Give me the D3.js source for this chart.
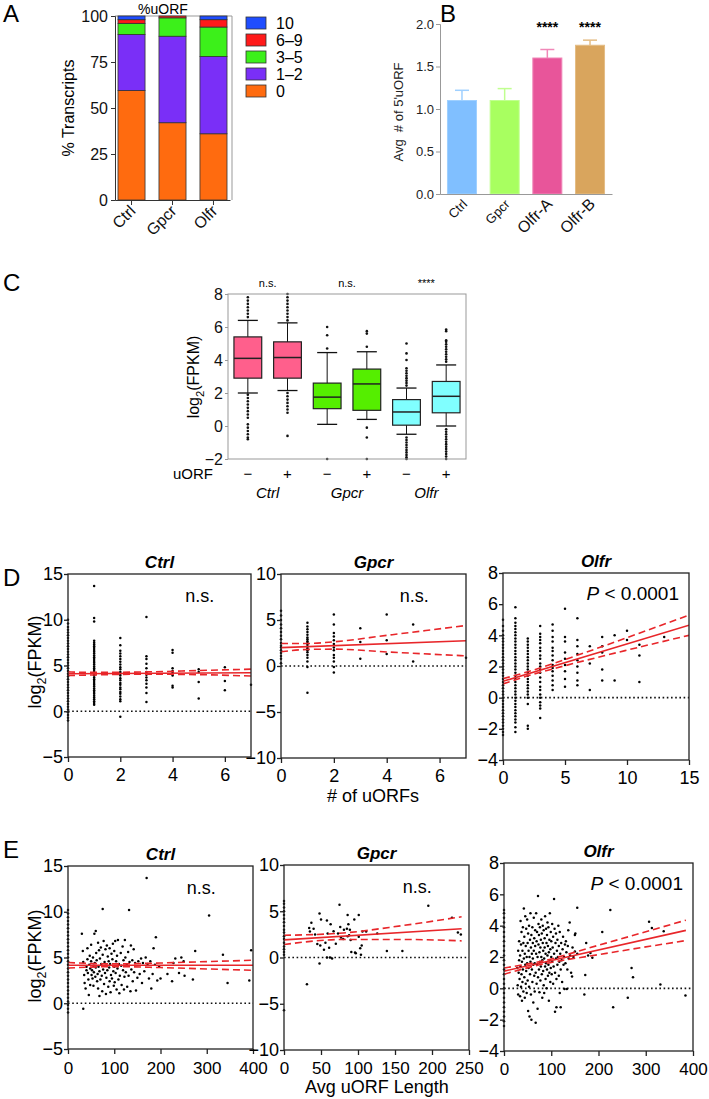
<!DOCTYPE html>
<html><head><meta charset="utf-8">
<script src="https://cdn.jsdelivr.net/npm/d3@7"></script>
<style>body{margin:0;background:#fff}</style>
</head><body>
<script>
// ================= DATA =================
// Panel A
const aCats = ["Ctrl","Gpcr","Olfr"];
const aKeys = ["0","1–2","3–5","6–9","10"];
const aZero = [59.5, 42, 36];
const aOneTwo = [30.5, 47, 42];
const aThreeFive = [6, 10, 16];
const aSixNine = [2, 1, 4];
const aTen = [2, 0, 2];
const aTicks = [0,25,50,75,100];

// Panel B
const bCats = ["Ctrl","Gpcr","Olfr-A","Olfr-B"];
const bMeans = [1.1, 1.1, 1.6, 1.75];
const bErr = [0.12, 0.14, 0.1, 0.06];
const bSig = ["","","****","****"];
const bTicks = [0,0.5,1,1.5,2];

// Panel C
const cCats = ["Ctrl-","Ctrl+","Gpcr-","Gpcr+","Olfr-","Olfr+"];
const cQ1 = [2.9,2.9,1.05,0.95,0.05,0.8];
const cMed = [4.1,4.15,1.75,2.55,0.85,1.8];
const cQ3 = [5.4,5.1,2.6,3.45,1.6,2.7];
const cLo = [2.0,2.15,0.1,0.4,-0.5,0.0];
const cHi = [6.4,6.25,4.45,4.5,2.3,3.7];
const cOut = [
  [6.6,6.8,7.0,7.2,7.4,7.6,7.8,1.9,1.7,1.5,1.3,1.1,0.9,0.7,0.5,0.1,-0.1,-0.3,-0.5,-0.7,-0.8],
  [6.4,6.6,6.8,7.0,7.2,7.4,7.6,7.8,8.0,2.0,1.8,1.6,1.4,1.2,1.0,0.8,-0.6],
  [4.7,5.5,6.0,-2.0],
  [4.8,5.6,5.75,-0.1,-0.7,-2.0],
  [2.45,2.6,2.75,2.9,3.05,3.2,3.35,3.5,4.0,4.4,5.0,-0.7,-0.85,-1.0,-1.15,-1.3,-1.45,-1.6,-1.75,-1.9,-2.0],
  [3.9,4.05,4.2,4.35,4.5,4.65,4.8,4.95,5.1,5.2,5.75,5.85,-0.2,-0.35,-0.5,-0.65,-0.8,-0.95,-1.1,-1.25,-1.4,-1.55,-1.7,-1.85,-2.0]
];
const cSigns = ["−","+","−","+","−","+"];
const cGroups = ["Ctrl","Gpcr","Olfr"];
const cSig = ["n.s.","n.s.","****"];
const cTicks = [-2,0,2,4,6,8];

// Panel D (# of uORFs) columns: [x, [y...]]
const dCtrlCols = [
 [0, [-1.0,-0.7,-0.4,-0.1,0.2,0.5,0.8,1.1,1.4,1.7,2.0,2.3,2.6,2.9,3.2,3.5,3.8,4.1,4.4,4.7,5.0,5.3,5.6,5.9,6.2,6.5,6.8,7.1,7.4,7.7,8.0,8.3,8.6,8.9,9.2,9.6,10.0]],
 [1, [0.7,0.9,1.1,1.3,1.5,1.7,1.9,2.1,2.3,2.5,2.7,2.9,3.1,3.3,3.5,3.7,3.9,4.1,4.3,4.5,4.7,4.9,5.1,5.3,5.5,5.7,5.9,6.1,6.3,6.5,6.7,6.9,7.1,7.3,7.5,7.7,9.8,10.2,13.7]],
 [2, [-0.6,1.1,1.3,1.6,1.9,2.1,2.4,2.6,2.9,3.1,3.4,3.6,3.9,4.1,4.3,4.6,4.8,5.1,5.4,5.7,6.0,6.3,6.6,7.2,8.0]],
 [3, [1.0,2.0,2.6,3.0,3.4,3.7,4.0,4.3,4.7,5.2,5.7,6.0,10.3]],
 [4, [2.6,2.8,3.9,4.2,4.4,4.7,6.4,6.7]],
 [5, [1.4,3.2,4.3,4.6]],
 [6, [2.3,3.3,4.8]],
 [7, [2.9]]
];
const dGpcrCols = [
 [0, [0.3,0.8,1.1,1.4,1.7,2.0,2.2,2.5,2.9,3.3,3.7,4.1,4.5,5.0,5.5,6.0]],
 [1, [-2.9,-0.1,0.5,0.9,1.2,1.5,1.7,1.9,2.1,2.3,2.5,2.7,2.9,3.1,3.4,3.7,4.0,4.3,4.7]],
 [2, [-0.7,-0.1,0.5,0.9,1.2,1.7,2.0,2.4,2.8,3.2,3.6,4.5,5.6]],
 [3, [0.8,2.6,4.1]],
 [4, [1.3,2.8,5.6]],
 [5, [0.5,4.5]],
 [7, [0.9]]
];
const dOlfrCols = [
 [0, [-2.4,-2.2,-2.0,-1.8,-1.6,-1.4,-1.2,-1.0,-0.8,-0.6,-0.4,-0.2,0,0.2,0.4,0.6,0.8,1.0,1.2,1.4,1.6,1.8,2.0,2.2,2.4,2.6,2.8,3.0,3.2,3.4,3.6,3.8,4.0,4.3,4.6,5.0]],
 [1, [-2.2,-1.9,-1.6,-1.4,-1.2,-1.0,-0.8,-0.6,-0.4,-0.2,0,0.2,0.4,0.6,0.8,1.0,1.2,1.4,1.6,1.8,2.0,2.2,2.4,2.6,2.8,3.0,3.2,3.4,3.6,3.8,4.0,4.2,4.4,4.6,4.8,5.1,5.8]],
 [2, [-2.0,-1.8,-0.4,0,0.2,0.4,0.6,0.8,1.0,1.2,1.4,1.6,1.8,2.0,2.2,2.4,2.6,2.8,3.0,3.2,3.4,3.6,3.8]],
 [3, [-1.3,-0.7,-0.5,-0.3,0,0.2,0.5,0.7,1.0,1.3,1.6,1.8,2.0,2.2,2.5,2.7,3.0,3.2,3.5,3.7,3.9,4.1,4.6]],
 [4, [0.5,0.8,1.1,1.4,1.7,1.9,2.1,2.4,2.7,3.0,3.2,3.6,3.9,4.3,4.7]],
 [5, [0.7,1.2,1.7,2.1,2.5,2.9,3.6,3.9,5.7]],
 [6, [0.8,1.1,1.6,2.0,2.4,2.8,3.3,3.7,5.1]],
 [7, [0.5,2.2,3.3]],
 [8, [1.1,1.8,2.9,3.3,3.9]],
 [9, [1.1,4.0]],
 [10, [3.7,4.3]],
 [11, [1.0,2.7,3.4]],
 [13, [3.9]]
];
// regression fits & 95% CI (x, y)
const dCtrlFit = [[0,4.1],[7,4.2]];
const dCtrlUp = [[0,4.3],[1,4.25],[3,4.3],[5,4.45],[7,4.6]];
const dCtrlLo = [[0,3.9],[1,3.97],[3,4.05],[5,4.0],[7,3.85]];
const dGpcrFit = [[0,2.0],[7,2.75]];
const dGpcrUp = [[0,2.45],[1,2.45],[2,2.63],[4,3.33],[7,4.4]];
const dGpcrLo = [[0,1.55],[1,1.8],[2,1.83],[4,1.53],[7,1.1]];
const dOlfrFit = [[0,1.05],[15,4.65]];
const dOlfrUp = [[0,1.22],[2,1.66],[5,2.45],[10,3.85],[15,5.3]];
const dOlfrLo = [[0,0.88],[2,1.4],[5,2.05],[10,3.05],[15,4.0]];

// Panel E (Avg uORF length) points [x, y]
const eCtrlZero = [-1.0,-0.6,-0.2,0.2,0.6,1,1.4,1.8,2.2,2.6,3,3.4,3.8,4.2,4.6,5,5.4,5.8,6.2,6.6,7,7.4,7.8,8.2,8.6,9,9.4,9.8,10.2];
const eCtrlPts = [[30,7.6],[32,5.7],[33,4.5],[35,3.1],[36,2.2],[38,1.6],[40,4.0],[40,3.6],[42,6.0],[42,4.8],[43,3.3],[44,2.6],[45,0.9],[46,4.2],[47,5.2],[48,3.8],[48,2.0],[50,6.4],[50,4.6],[51,3.1],[52,3.6],[53,2.7],[54,5.0],[55,4.1],[55,1.9],[56,3.4],[57,7.6],[58,4.4],[59,2.9],[60,7.9],[60,3.9],[61,5.5],[62,4.7],[63,2.4],[64,3.2],[65,1.6],[65,6.6],[66,4.0],[67,5.8],[68,0.8],[68,3.5],[69,4.9],[70,2.6],[71,6.1],[72,4.3],[73,3.0],[74,1.3],[75,5.3],[75,10.3],[76,3.7],[77,6.8],[78,2.1],[79,4.5],[80,3.3],[81,5.9],[82,1.0],[82,4.1],[83,2.8],[84,6.3],[85,3.6],[86,5.1],[87,1.8],[88,4.6],[89,3.9],[90,2.4],[90,6.0],[91,4.3],[92,1.2],[93,3.1],[94,5.4],[95,2.7],[96,4.8],[97,6.5],[98,3.5],[99,1.9],[100,5.7],[100,4.0],[101,2.3],[102,6.8],[103,3.3],[104,4.6],[105,1.5],[106,5.2],[107,3.8],[108,6.9],[109,2.6],[110,4.3],[111,1.1],[112,3.0],[114,5.5],[115,4.1],[116,2.0],[118,6.2],[119,3.6],[120,4.7],[121,1.5],[122,2.9],[123,6.9],[124,5.0],[125,3.4],[127,4.2],[128,1.8],[130,5.6],[131,3.0],[132,10.2],[133,4.5],[135,1.3],[136,6.3],[137,3.7],[139,4.7],[140,2.4],[142,5.9],[143,3.4],[145,4.4],[147,1.4],[150,2.8],[152,4.6],[155,3.2],[158,4.9],[160,2.2],[162,4.4],[165,3.5],[168,5.0],[170,13.7],[172,4.3],[175,2.7],[178,4.6],[180,1.6],[183,3.2],[185,6.0],[188,4.2],[190,7.2],[193,2.5],[197,4.0],[200,2.7],[215,3.2],[225,2.4],[228,4.4],[232,4.9],[240,3.3],[245,5.0],[250,4.6],[252,3.0],[270,2.6],[275,5.7],[305,9.6],[335,5.3],[345,2.2],[392,2.5],[396,5.8],[33,-0.6]];
const eGpcrZero = [-5.7,0.3,0.6,0.9,1.2,1.6,2.0,2.3,2.7,3.0,3.4,3.8,4.2,4.6,5.0,5.4,5.8,6.1];
const eGpcrPts = [[31,-2.9],[35,2.8],[37,3.75],[34,3.2],[40,3.1],[42,2.5],[45,1.45],[48,4.75],[50,4.1],[49,1.3],[48,-0.65],[54,0.85],[56,1.6],[58,4.0],[59,2.6],[61,1.05],[63,3.6],[58,0],[62,0],[65,-0.1],[67,2.85],[70,1.5],[73,2.6],[75,5.7],[76,3.3],[77,2.15],[80,2.0],[81,3.0],[85,3.1],[86,4.6],[87,3.6],[88,2.4],[89,3.0],[90,1.9],[91,0.6],[95,4.1],[96,0.55],[97,0.45],[101,4.6],[103,1.0],[104,0.3],[105,1.3],[106,2.8],[111,2.8],[126,2.6],[139,0.7],[160,0.7],[195,5.6],[227,4.3],[235,2.7],[239,2.5],[86,2.3],[101,2.25]];
const eOlfrZero = [-2.4,-2.1,-1.8,-1.5,-1.2,-0.9,-0.6,-0.3,0,0.3,0.6,0.9,1.2,1.5,1.8,2.1,2.4,2.7,3,3.3,3.6,3.9,4.2,4.5,4.8,5.0];
const eOlfrPts = [[28,1.3],[29,0.2],[30,2.4],[30,-0.4],[31,1.0],[32,3.0],[32,1.8],[33,0.6],[34,2.1],[34,-0.5],[35,4.3],[35,1.4],[36,0.1],[36,2.8],[37,3.6],[37,0.9],[38,1.7],[38,-0.8],[39,2.4],[39,0.4],[40,3.9],[40,1.2],[41,2.9],[41,-0.2],[42,5.1],[42,1.9],[43,0.7],[43,3.3],[44,2.2],[44,-0.6],[45,1.5],[45,4.6],[46,2.7],[46,0.3],[47,3.8],[47,1.1],[48,2.0],[48,-0.3],[49,4.4],[49,1.6],[50,2.9],[50,0.5],
[51,3.5],[51,-1.45],[52,1.3],[52,2.4],[53,4.0],[53,0.1],[54,-1.8],[54,2.0],[55,3.1],[55,0.9],[56,1.7],[56,4.8],[57,2.6],[57,-0.4],[58,-2.0],[58,3.4],[59,1.2],[59,2.2],[60,0.4],[60,3.9],[61,1.9],[61,2.9],[62,-0.9],[62,1.5],[63,4.5],[63,2.4],[64,0.8],[64,3.2],[65,1.6],[65,-0.2],[66,2.7],[66,3.7],[67,-2.2],[67,1.0],[68,4.8],[68,2.2],[69,0.3],[69,3.0],[70,1.5],[70,3.6],[71,-1.3],[71,2.0],[72,5.9],[72,0.7],
[73,2.8],[73,4.1],[74,1.2],[74,3.4],[75,-0.25],[75,2.3],[76,1.7],[76,3.9],[77,0.5],[77,2.6],[78,3.1],[78,1.4],[79,4.4],[79,2.0],[80,0.9],[80,3.5],[81,1.8],[81,-0.6],[82,2.9],[82,4.0],[83,1.1],[83,2.4],[84,3.7],[84,0.2],[85,-0.3],[85,1.9],[86,3.2],[86,2.6],[87,4.6],[87,1.4],[88,0.6],[88,2.2],[89,3.8],[89,1.6],[90,2.9],[90,0.0],[91,1.2],[91,3.4],[92,2.1],[92,4.2],[93,0.8],[93,2.7],[94,1.5],[94,3.9],[95,-0.8],[95,2.3],[96,3.1],[96,1.0],[97,4.8],[97,1.8],[98,2.5],[98,0.4],[99,3.6],[99,1.3],[100,2.0],[100,3.0],
[101,0.9],[102,4.1],[102,1.7],[103,2.6],[104,0.3],[104,3.3],[105,1.4],[106,5.7],[106,2.2],[107,3.8],[108,-1.5],[108,1.0],[109,2.9],[110,1.9],[110,3.5],[111,-1.2],[111,0.6],[112,2.4],[113,1.5],[113,3.1],[114,2.0],[115,4.0],[116,0.8],[116,2.7],[117,1.7],[118,-0.3],[118,3.6],[119,2.2],[120,-1.2],[120,1.2],[121,2.9],[122,1.8],[123,0.4],[124,2.5],[125,3.3],[126,1.5],[127,2.0],[128,-0.05],[129,2.8],[130,1.6],[131,3.0],[132,2.3],[133,-0.05],[134,1.2],[135,2.7],[136,3.7],[137,1.9],[139,4.2],[140,2.1],[142,1.0],[144,0.75],[145,2.6],[147,2.0],[150,2.35],[150,3.4],[151,3.5],[155,5.15],[155,2.2],
[170,-0.4],[172,0.85],[174,2.9],[178,2.1],[183,2.25],[187,1.95],[208,3.6],[225,5.0],[231,-1.2],[262,-0.6],[270,1.3],[273,0.7],[307,4.25],[313,3.85],[331,0.25],[338,3.65],[384,-0.45]];
const eCtrlFit = [[0,4.15],[400,4.15]];
const eCtrlUp = [[0,4.45],[100,4.3],[200,4.4],[300,4.55],[400,4.7]];
const eCtrlLo = [[0,3.85],[100,4.0],[200,3.9],[300,3.75],[400,3.6]];
const eGpcrFit = [[0,1.9],[240,3.1]];
const eGpcrUp = [[0,2.4],[80,2.65],[160,3.45],[240,4.4]];
const eGpcrLo = [[0,1.4],[80,1.95],[160,1.95],[240,1.8]];
const eOlfrFit = [[0,1.1],[385,3.7]];
const eOlfrUp = [[0,1.3],[75,1.7],[200,2.75],[385,4.35]];
const eOlfrLo = [[0,0.9],[75,1.5],[200,2.15],[385,3.05]];

// ================= DRAW =================
const W = 709, H = 1099;
const FONT = '"Liberation Sans", Arial, Helvetica, sans-serif';
const svg = d3.select("body").append("svg").attr("width", W).attr("height", H)
  .style("font-family", FONT);
svg.append("rect").attr("width", W).attr("height", H).attr("fill", "#fff");

function letter(t, x, y) {
  svg.append("text").attr("x", x).attr("y", y).attr("font-size", 24).text(t);
}
function log2Label(g, x, y, size) {
  const t = g.append("text").attr("transform", `translate(${x},${y}) rotate(-90)`)
    .attr("text-anchor", "middle").attr("font-size", size);
  t.append("tspan").text("log");
  t.append("tspan").attr("font-size", size * 0.7).attr("dy", size * 0.3).text("2");
  t.append("tspan").attr("dy", -size * 0.3).text("(FPKM)");
}

// ---------- Panel A ----------
letter("A", 3, 22);
{
  const g = svg.append("g");
  const x = d3.scaleBand().domain(aCats).range([115, 230]).paddingInner(0.34).paddingOuter(0.073);
  const y = d3.scaleLinear().domain([0, 100]).range([200, 16]);
  const colors = {"0":"#ff6b0f","1–2":"#7a2ff7","3–5":"#3cf01a","6–9":"#ff1a1a","10":"#1f4dff"};
  const rows = aCats.map((c, i) => ({cat: c, "0": aZero[i], "1–2": aOneTwo[i], "3–5": aThreeFive[i], "6–9": aSixNine[i], "10": aTen[i]}));
  const stack = d3.stack().keys(aKeys)(rows);
  g.append("path").attr("d", `M115,16H232V200`).attr("fill", "none").attr("stroke", "#999").attr("stroke-width", 1);
  stack.forEach(s => {
    g.selectAll(null).data(s).join("rect")
      .attr("x", d => x(d.data.cat)).attr("width", x.bandwidth())
      .attr("y", d => y(d[1])).attr("height", d => Math.max(0, y(d[0]) - y(d[1])))
      .attr("fill", colors[s.key]).attr("stroke", "#333").attr("stroke-width", 0.8);
  });
  const ya = g.append("g").attr("transform", "translate(115,0)")
    .call(d3.axisLeft(y).tickValues(aTicks).tickSize(4).tickPadding(3));
  ya.selectAll("text").attr("font-size", 16).attr("font-family", FONT).attr("fill", "#111");
  ya.selectAll("line,path").attr("stroke", "#333");
  const xa = g.append("g").attr("transform", "translate(0,200)")
    .call(d3.axisBottom(x).tickSize(5).tickSizeOuter(0));
  xa.selectAll("line,path").attr("stroke", "#333");
  xa.selectAll("text").attr("font-size", 16).attr("font-family", FONT).attr("fill", "#111")
    .attr("text-anchor", "end").attr("dy", null).attr("y", 0)
    .attr("transform", "translate(5,12) rotate(-45)");
  g.append("text").attr("x", 163).attr("y", 14).attr("text-anchor", "middle").attr("font-size", 14).text("%uORF");
  g.append("text").attr("transform", "translate(74,108) rotate(-90)").attr("text-anchor", "middle")
    .attr("font-size", 16).text("% Transcripts");
  const legendKeys = aKeys.slice().reverse();
  legendKeys.forEach((k, i) => {
    const yy = 17 + i * 17;
    g.append("rect").attr("x", 246).attr("y", yy).attr("width", 20).attr("height", 12)
      .attr("fill", colors[k]).attr("stroke", "#333").attr("stroke-width", 0.8);
    g.append("text").attr("x", 276).attr("y", yy + 12).attr("font-size", 16).text(k);
  });
}

// ---------- Panel B ----------
letter("B", 440, 22);
{
  const g = svg.append("g");
  const x = d3.scaleBand().domain(bCats).range([440, 612]).paddingInner(0.32).paddingOuter(0.175);
  const y = d3.scaleLinear().domain([0, 2]).range([194, 24]);
  const fills = ["#80bfff", "#a8ff60", "#e8559a", "#d9a55d"];
  const strokes = ["#9fd0ff", "#c0ff90", "#f088b8", "#e4bd85"];
  bCats.forEach((c, i) => {
    const cx = x(c) + x.bandwidth() / 2;
    g.append("line").attr("x1", cx).attr("x2", cx).attr("y1", y(bMeans[i])).attr("y2", y(bMeans[i] + bErr[i]))
      .attr("stroke", strokes[i]).attr("stroke-width", 1.5);
    g.append("line").attr("x1", cx - 7).attr("x2", cx + 7).attr("y1", y(bMeans[i] + bErr[i])).attr("y2", y(bMeans[i] + bErr[i]))
      .attr("stroke", strokes[i]).attr("stroke-width", 1.5);
    g.append("rect").attr("x", x(c)).attr("width", x.bandwidth()).attr("y", y(bMeans[i]))
      .attr("height", y(0) - y(bMeans[i])).attr("fill", fills[i]).attr("stroke", strokes[i]).attr("stroke-width", 1);
    if (bSig[i]) g.append("text").attr("x", cx).attr("y", 32).attr("text-anchor", "middle")
      .attr("font-size", 14).attr("font-weight", "bold").text(bSig[i]);
  });
  const ya = g.append("g").attr("transform", "translate(440,0)")
    .call(d3.axisLeft(y).tickValues(bTicks).tickFormat(d3.format(".1f")).tickSize(4).tickPadding(2));
  ya.selectAll("line,path").attr("stroke", "#999");
  ya.selectAll("text").attr("font-size", 13).attr("font-family", FONT).attr("fill", "#222");
  const xa = g.append("g").attr("transform", "translate(0,194)")
    .call(d3.axisBottom(x).tickSize(0).tickSizeOuter(0));
  xa.selectAll("path").attr("stroke", "#999");
  xa.selectAll("text").attr("font-family", FONT).attr("fill", "#111")
    .attr("font-size", (d, i) => i < 2 ? 13 : 16)
    .attr("text-anchor", "end").attr("dy", null).attr("y", 0)
    .attr("transform", "translate(6,11) rotate(-45)");
  g.append("text").attr("transform", "translate(403,112) rotate(-90)").attr("text-anchor", "middle")
    .attr("font-size", 13).attr("fill", "#222").attr("xml:space", "preserve").text("Avg  # of 5'uORF");
}

// ---------- Panel C ----------
letter("C", 3, 291);
{
  const g = svg.append("g");
  const L = 228, R = 466, T = 294, B = 459;
  const x = d3.scaleBand().domain(cCats).range([L, R]).paddingInner(0.3).paddingOuter(0.15);
  const y = d3.scaleLinear().domain([-2, 8]).range([B, T]);
  const fills = ["#ff5f8c", "#ff5f8c", "#55ee00", "#55ee00", "#80ffff", "#80ffff"];
  const bw = x.bandwidth();
  cCats.forEach((c, i) => {
    const cx = x(c) + bw / 2;
    g.append("line").attr("x1", cx).attr("x2", cx).attr("y1", y(cLo[i])).attr("y2", y(cHi[i])).attr("stroke", "#111").attr("stroke-width", 1);
    [cLo[i], cHi[i]].forEach(v => g.append("line").attr("x1", cx - 10).attr("x2", cx + 10).attr("y1", y(v)).attr("y2", y(v)).attr("stroke", "#111").attr("stroke-width", 1.3));
    g.append("rect").attr("x", x(c)).attr("width", bw).attr("y", y(cQ3[i])).attr("height", y(cQ1[i]) - y(cQ3[i]))
      .attr("fill", fills[i]).attr("stroke", "#222").attr("stroke-width", 1.2);
    g.append("line").attr("x1", x(c)).attr("x2", x(c) + bw).attr("y1", y(cMed[i])).attr("y2", y(cMed[i])).attr("stroke", "#222").attr("stroke-width", 1.5);
    g.selectAll(null).data(cOut[i]).join("circle").attr("cx", cx).attr("cy", d => y(d)).attr("r", 1.3).attr("fill", "#111");
    g.append("text").attr("x", cx).attr("y", 479).attr("text-anchor", "middle").attr("font-size", 15).text(cSigns[i]);
  });
  g.append("rect").attr("x", L).attr("y", T).attr("width", R - L).attr("height", B - T).attr("fill", "none").attr("stroke", "#999").attr("stroke-width", 1);
  const ya = g.append("g").attr("transform", `translate(${L},0)`).call(d3.axisLeft(y).tickValues(cTicks).tickSize(3).tickPadding(2));
  ya.select("path").remove();
  ya.selectAll("line").attr("stroke", "#999");
  ya.selectAll("text").attr("font-size", 16).attr("font-family", FONT).attr("fill", "#111");
  log2Label(g, 199, 377, 16);
  cGroups.forEach((gr, k) => {
    const cx = (x(cCats[2 * k]) + x(cCats[2 * k + 1]) + bw) / 2;
    g.append("text").attr("x", cx).attr("y", 287).attr("text-anchor", "middle").attr("font-size", 11).text(cSig[k]);
    g.append("text").attr("x", cx).attr("y", 498).attr("text-anchor", "middle").attr("font-size", 15).attr("font-style", "italic").text(gr);
  });
  g.append("text").attr("x", 213).attr("y", 479).attr("text-anchor", "end").attr("font-size", 15).text("uORF");
}

// ---------- Scatter panels (D, E) ----------
let clipN = 0;
function scatter(o) {
  const g = svg.append("g");
  const x = d3.scaleLinear().domain(o.xd).range([o.l, o.r]);
  const y = d3.scaleLinear().domain(o.yd).range([o.b, o.t]);
  const id = "clip" + (clipN++);
  g.append("clipPath").attr("id", id).append("rect").attr("x", o.l).attr("y", o.t).attr("width", o.r - o.l).attr("height", o.b - o.t);
  g.append("line").attr("x1", o.l).attr("x2", o.r).attr("y1", y(0)).attr("y2", y(0))
    .attr("stroke", "#111").attr("stroke-width", 1.6).attr("stroke-dasharray", "1.6,2.6");
  g.selectAll(null).data(o.pts).join("circle").attr("cx", d => x(d[0])).attr("cy", d => y(d[1])).attr("r", 1.25).attr("fill", "#000");
  const lg = g.append("g").attr("clip-path", `url(#${id})`);
  const line = d3.line().x(d => x(d[0])).y(d => y(d[1])).curve(d3.curveMonotoneX);
  lg.append("path").attr("d", line(o.fit)).attr("fill", "none").attr("stroke", "#e8262a").attr("stroke-width", 1.6);
  [o.up, o.lo].forEach(c => lg.append("path").attr("d", line(c)).attr("fill", "none")
    .attr("stroke", "#e8262a").attr("stroke-width", 1.6).attr("stroke-dasharray", "7,4"));
  g.append("rect").attr("x", o.l).attr("y", o.t).attr("width", o.r - o.l).attr("height", o.b - o.t)
    .attr("fill", "none").attr("stroke", "#222").attr("stroke-width", 1.3);
  const ya = g.append("g").attr("transform", `translate(${o.l},0)`).call(d3.axisLeft(y).tickValues(o.yt).tickFormat(d3.format("d")).tickSize(4).tickPadding(1));
  ya.select("path").remove();
  ya.selectAll("line").attr("stroke", "#222").attr("stroke-width", 1.3);
  ya.selectAll("text").attr("font-size", 18).attr("font-family", FONT).attr("fill", "#000");
  const xa = g.append("g").attr("transform", `translate(0,${o.b})`).call(d3.axisBottom(x).tickValues(o.xt).tickFormat(d3.format("d")).tickSize(5).tickPadding(o.xpad || 6));
  xa.select("path").remove();
  xa.selectAll("line").attr("stroke", "#222").attr("stroke-width", 1.3);
  xa.selectAll("text").attr("font-size", o.xfs || 18).attr("font-family", FONT).attr("fill", "#000");
  g.append("text").attr("x", (o.l + o.r) / 2).attr("y", o.t - 6).attr("text-anchor", "middle")
    .attr("font-size", 17).attr("font-weight", "bold").attr("font-style", "italic").text(o.title);
  if (o.ns) {
    g.append("text").attr("x", o.l + (o.r - o.l) * 0.72).attr("y", o.t + 28).attr("text-anchor", "middle").attr("font-size", 18).text("n.s.");
  } else {
    const t = g.append("text").attr("x", o.r - 10).attr("y", o.t + 27).attr("text-anchor", "end").attr("font-size", 19);
    t.append("tspan").attr("font-style", "italic").text("P");
    t.append("tspan").text(" < 0.0001");
  }
  return g;
}
const cols2pts = cols => cols.flatMap(([xv, ys]) => ys.map(v => [xv, v]));
const zero2pts = ys => ys.map(v => [0, v]);

letter("D", 3, 586);
scatter({l:68, r:251, t:574, b:757, xd:[0,7], yd:[-5,15], xt:[0,2,4,6], yt:[-5,0,5,10,15],
  pts: cols2pts(dCtrlCols), fit: dCtrlFit, up: dCtrlUp, lo: dCtrlLo, title: "Ctrl", ns: true});
scatter({l:281, r:466, t:574, b:758, xd:[0,7], yd:[-10,10], xt:[0,2,4,6], yt:[-10,-5,0,5,10],
  pts: cols2pts(dGpcrCols), fit: dGpcrFit, up: dGpcrUp, lo: dGpcrLo, title: "Gpcr", ns: true});
scatter({l:503, r:689, t:573, b:760, xd:[0,15], yd:[-4,8], xt:[0,5,10,15], yt:[-4,-2,0,2,4,6,8],
  pts: cols2pts(dOlfrCols), fit: dOlfrFit, up: dOlfrUp, lo: dOlfrLo, title: "Olfr", ns: false});
log2Label(svg, 41, 662, 18);
svg.append("text").attr("x", 373).attr("y", 802).attr("text-anchor", "middle").attr("font-size", 18).text("# of uORFs");

letter("E", 3, 858);
scatter({l:68, r:253, t:866, b:1049, xd:[0,400], yd:[-5,15], xt:[0,100,200,300,400], yt:[-5,0,5,10,15], xpad: 8, xfs: 17,
  pts: zero2pts(eCtrlZero).concat(eCtrlPts), fit: eCtrlFit, up: eCtrlUp, lo: eCtrlLo, title: "Ctrl", ns: true});
scatter({l:284, r:469, t:865, b:1050, xd:[0,250], yd:[-10,10], xt:[0,50,100,150,200,250], yt:[-10,-5,0,5,10], xpad: 7, xfs: 17,
  pts: zero2pts(eGpcrZero).concat(eGpcrPts), fit: eGpcrFit, up: eGpcrUp, lo: eGpcrLo, title: "Gpcr", ns: true});
scatter({l:504, r:693, t:863, b:1051, xd:[0,400], yd:[-4,8], xt:[0,100,200,300,400], yt:[-4,-2,0,2,4,6,8], xpad: 7, xfs: 17,
  pts: zero2pts(eOlfrZero).concat(eOlfrPts), fit: eOlfrFit, up: eOlfrUp, lo: eOlfrLo, title: "Olfr", ns: false});
log2Label(svg, 41, 956, 18);
svg.append("text").attr("x", 377).attr("y", 1093).attr("text-anchor", "middle").attr("font-size", 18).text("Avg uORF Length");
</script>
</body></html>
